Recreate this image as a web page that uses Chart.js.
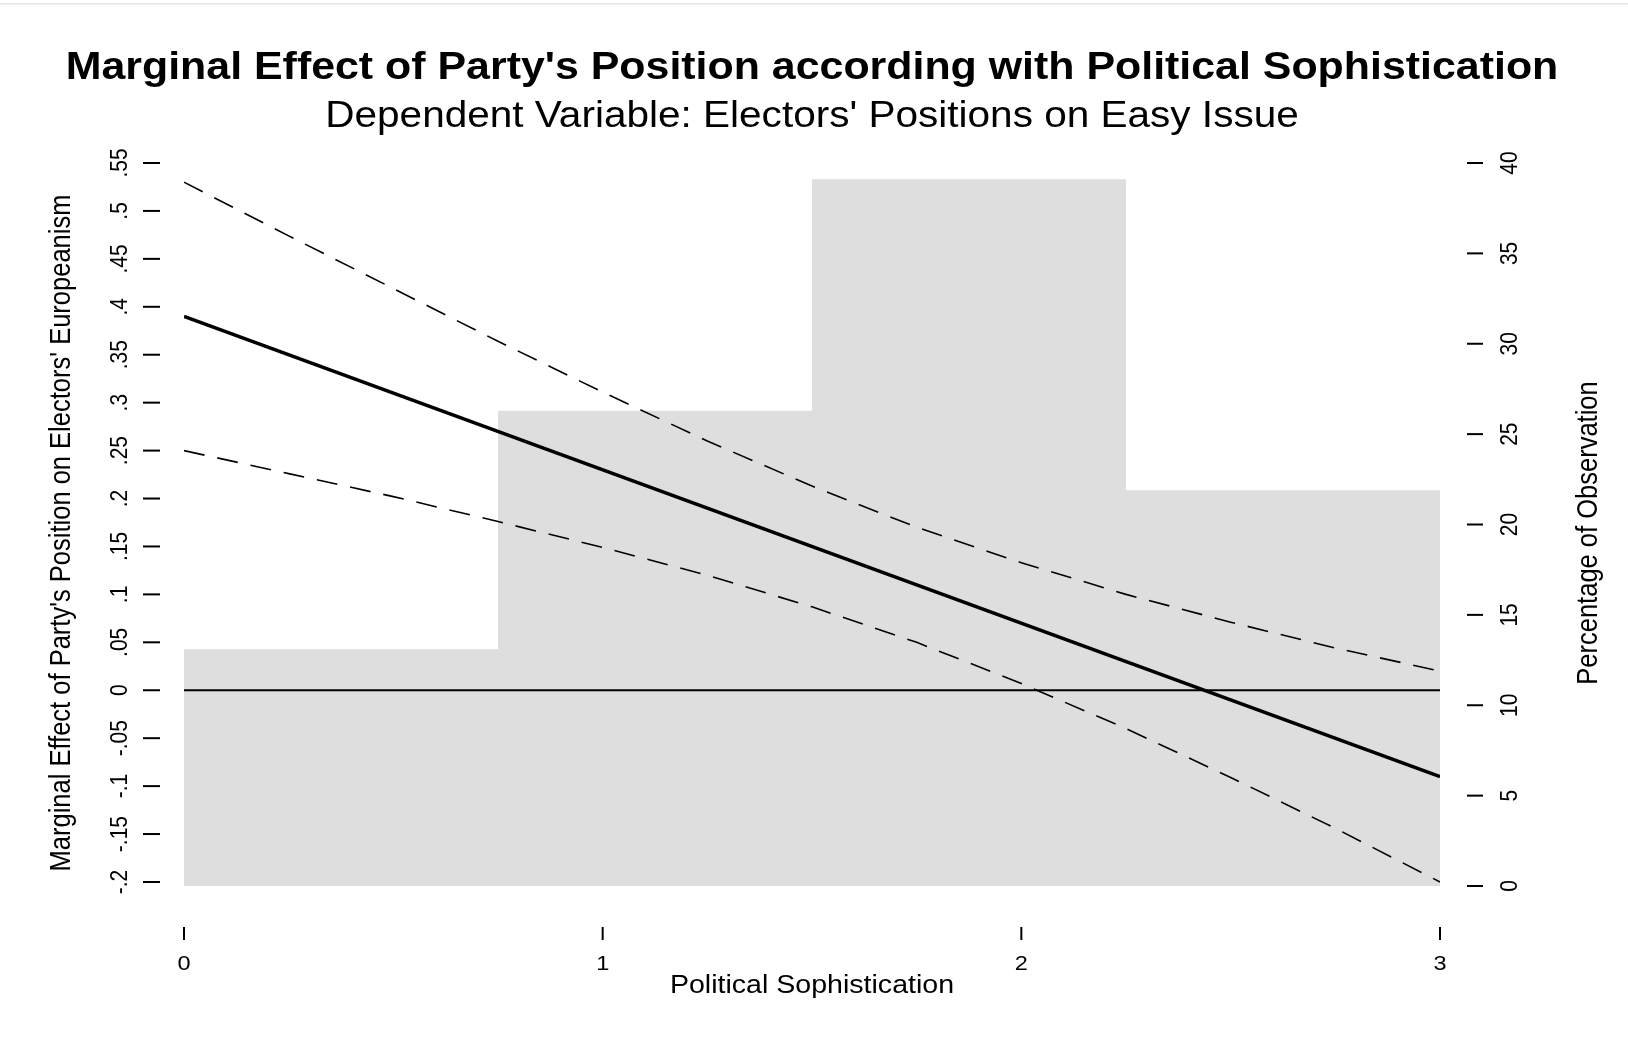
<!DOCTYPE html>
<html>
<head>
<meta charset="utf-8">
<script src="https://cdn.jsdelivr.net/npm/chart.js@4.4.1/dist/chart.umd.min.js"></script>
<style>
  html, body { margin: 0; padding: 0; background: #ffffff; }
  #wrap { position: relative; width: 1628px; height: 1041px; }
  canvas { display: block; }
</style>
</head>
<body>
<div id="wrap"><canvas id="chart" width="1628" height="1041"></canvas></div>
<script>
// Political sophistication grid where the confidence bounds are given
const sophistication = [0, 0.25, 0.5, 0.75, 1, 1.25, 1.5, 1.75, 2, 2.25, 2.5, 2.75, 3];
// 95% confidence bounds of the marginal effect
const upperBound = [0.530, 0.474, 0.419, 0.364, 0.311, 0.260, 0.213, 0.170, 0.133, 0.100, 0.071, 0.044, 0.020];
const lowerBound = [0.250, 0.226, 0.202, 0.176, 0.149, 0.120, 0.087, 0.050, 0.007, -0.040, -0.091, -0.144, -0.200];
// Marginal effect of party's position (linear in sophistication)
const effectX = [0, 3];
const effectY = [0.39, -0.09];
// Reference line at zero
const zeroX = [0, 3];
const zeroY = [0, 0];
// Histogram of sophistication: bin edges and percentage of observations
const binEdges = [0, 0.75, 1.5, 2.25, 3];
const binPercent = [13.1, 26.3, 39.1, 21.9];
// Axis ticks
const xTicks = [0, 1, 2, 3];
const xTickLabels = ['0', '1', '2', '3'];
const yTicks = [-0.2, -0.15, -0.1, -0.05, 0, 0.05, 0.1, 0.15, 0.2, 0.25, 0.3, 0.35, 0.4, 0.45, 0.5, 0.55];
const yTickLabels = ['-.2', '-.15', '-.1', '-.05', '0', '.05', '.1', '.15', '.2', '.25', '.3', '.35', '.4', '.45', '.5', '.55'];
const y2Ticks = [0, 5, 10, 15, 20, 25, 30, 35, 40];
const y2TickLabels = ['0', '5', '10', '15', '20', '25', '30', '35', '40'];

const titleText = "Marginal Effect of Party's Position according with Political Sophistication";
const subtitleText = "Dependent Variable: Electors' Positions on Easy Issue";
const xTitle = 'Political Sophistication';
const yTitle = "Marginal Effect of Party's Position on Electors' Europeanism";
const y2Title = 'Percentage of Observation';

const FONT = '"Liberation Sans", Arial, Helvetica, sans-serif';
const STRETCH = 1.12; // horizontal widening of all lettering

const pts = (xs, ys) => xs.map((x, i) => ({ x: x, y: ys[i] }));
const histPoints = binEdges.map((e, i) => ({ x: e, y: binPercent[Math.min(i, binPercent.length - 1)] }));

function drawText(ctx, str, x, y, size, bold, rotated) {
  ctx.save();
  ctx.translate(x, y);
  ctx.scale(STRETCH, 1);
  if (rotated) ctx.rotate(-Math.PI / 2);
  ctx.font = (bold ? 'bold ' : '') + size + 'px ' + FONT;
  ctx.fillStyle = '#000000';
  ctx.textAlign = 'center';
  ctx.textBaseline = 'alphabetic';
  ctx.fillText(str, 0, 0);
  ctx.restore();
}

// Draws R-style axes (tick marks set apart from the plot region) and all titles
const axesPlugin = {
  id: 'rAxes',
  afterDraw(chart) {
    const ctx = chart.ctx;
    const xs = chart.scales.x, ys = chart.scales.y, y2s = chart.scales.y2;
    ctx.save();
    ctx.strokeStyle = '#000000';
    ctx.lineWidth = 2;
    // bottom axis
    xTicks.forEach((v, i) => {
      const px = xs.getPixelForValue(v);
      ctx.beginPath(); ctx.moveTo(px, 927); ctx.lineTo(px, 940); ctx.stroke();
      drawText(ctx, xTickLabels[i], px, 970, 21, false, false);
    });
    // left axis
    yTicks.forEach((v, i) => {
      const py = ys.getPixelForValue(v);
      ctx.beginPath(); ctx.moveTo(143, py); ctx.lineTo(160, py); ctx.stroke();
      drawText(ctx, yTickLabels[i], 127, py, 21, false, true);
    });
    // right axis
    y2Ticks.forEach((v, i) => {
      const py = y2s.getPixelForValue(v);
      ctx.beginPath(); ctx.moveTo(1467, py); ctx.lineTo(1483, py); ctx.stroke();
      drawText(ctx, y2TickLabels[i], 1517, py, 21, false, true);
    });
    ctx.restore();

    const cx = (chart.chartArea.left + chart.chartArea.right) / 2;
    drawText(ctx, titleText, cx, 79, 38.3, true, false);
    drawText(ctx, subtitleText, cx, 127, 36.2, false, false);
    drawText(ctx, xTitle, cx, 993, 25.5, false, false);
    drawText(ctx, yTitle, 70, 533, 25.5, false, true);
    drawText(ctx, y2Title, 1597, 533, 25.5, false, true);

    // thin frame line along the top edge
    ctx.save();
    ctx.fillStyle = '#e4e4e4';
    ctx.fillRect(0, 3, chart.width, 1.5);
    ctx.restore();
  }
};

new Chart(document.getElementById('chart'), {
  type: 'line',
  data: {
    datasets: [
      {
        label: 'Marginal effect',
        data: pts(effectX, effectY),
        yAxisID: 'y',
        borderColor: '#000000',
        borderWidth: 3.5,
        pointRadius: 0,
        order: 1
      },
      {
        label: 'Upper bound',
        data: pts(sophistication, upperBound),
        yAxisID: 'y',
        borderColor: '#000000',
        borderWidth: 1.6,
        borderDash: [21, 13],
        pointRadius: 0,
        order: 2
      },
      {
        label: 'Lower bound',
        data: pts(sophistication, lowerBound),
        yAxisID: 'y',
        borderColor: '#000000',
        borderWidth: 1.6,
        borderDash: [21, 13],
        pointRadius: 0,
        order: 2
      },
      {
        label: 'Zero',
        data: pts(zeroX, zeroY),
        yAxisID: 'y',
        borderColor: '#000000',
        borderWidth: 1.8,
        pointRadius: 0,
        order: 3
      },
      {
        label: 'Percentage of Observation',
        data: histPoints,
        yAxisID: 'y2',
        stepped: 'before',
        borderWidth: 0,
        borderColor: 'rgba(0,0,0,0)',
        backgroundColor: '#dedede',
        fill: 'origin',
        pointRadius: 0,
        order: 4
      }
    ]
  },
  options: {
    responsive: false,
    animation: false,
    events: [],
    layout: { padding: { left: 184, right: 188, top: 163, bottom: 155 } },
    plugins: { legend: { display: false }, tooltip: { enabled: false }, title: { display: false } },
    scales: {
      x: { type: 'linear', min: 0, max: 3, display: false },
      y: { type: 'linear', min: -0.2042, max: 0.55, display: false },
      y2: { type: 'linear', min: 0, max: 40, display: false, position: 'right' }
    }
  },
  plugins: [axesPlugin]
});
</script>
</body>
</html>
